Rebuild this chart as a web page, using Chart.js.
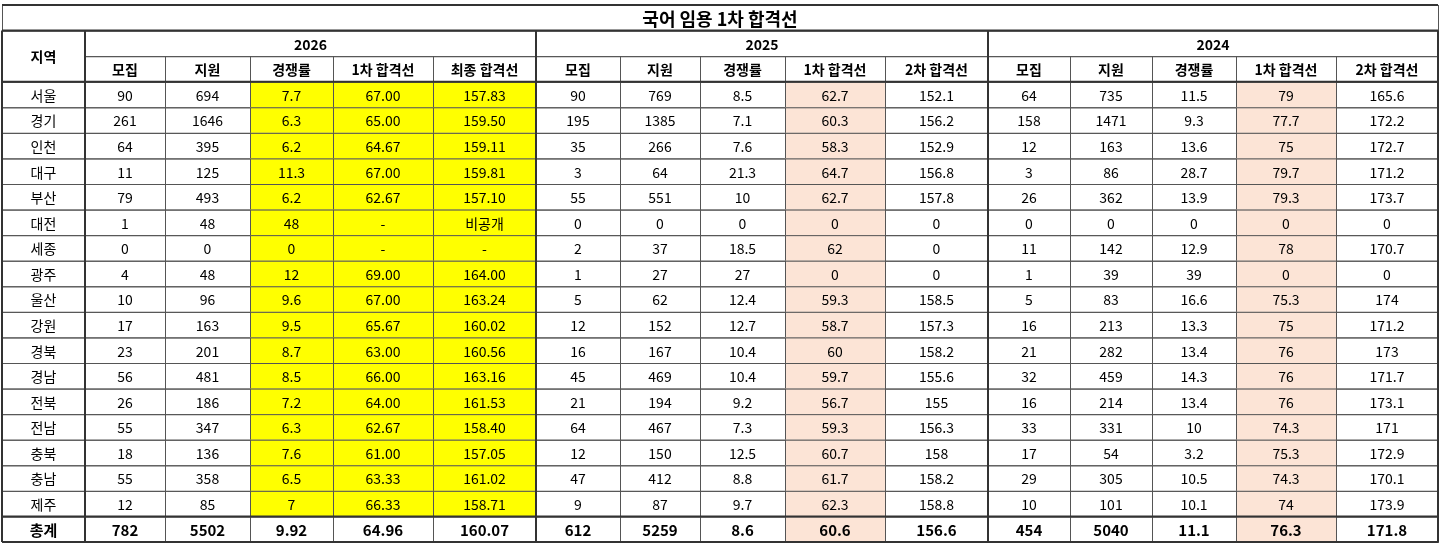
<!DOCTYPE html>
<html>
<head>
<meta charset="utf-8">
<script src="https://cdn.jsdelivr.net/npm/chart.js@4/dist/chart.umd.min.js"></script>
<style>
  html, body { margin: 0; padding: 0; background: #fff; }
  #wrap { width: 1443px; height: 546px; }
</style>
</head>
<body>
<div id="wrap"><canvas id="table"></canvas></div>
<script>
// 데이터
const title = '국어 임용 1차 합격선';
const years = ['2026', '2025', '2024'];
const subHeaders = [
  ['모집', '지원', '경쟁률', '1차 합격선', '최종 합격선'],
  ['모집', '지원', '경쟁률', '1차 합격선', '2차 합격선'],
  ['모집', '지원', '경쟁률', '1차 합격선', '2차 합격선']
];
const regions = ['서울', '경기', '인천', '대구', '부산', '대전', '세종', '광주', '울산', '강원',
  '경북', '경남', '전북', '전남', '충북', '충남', '제주'];
const total = '총계';

const data2026 = [
  ['90', '694', '7.7', '67.00', '157.83'],
  ['261', '1646', '6.3', '65.00', '159.50'],
  ['64', '395', '6.2', '64.67', '159.11'],
  ['11', '125', '11.3', '67.00', '159.81'],
  ['79', '493', '6.2', '62.67', '157.10'],
  ['1', '48', '48', '-', '비공개'],
  ['0', '0', '0', '-', '-'],
  ['4', '48', '12', '69.00', '164.00'],
  ['10', '96', '9.6', '67.00', '163.24'],
  ['17', '163', '9.5', '65.67', '160.02'],
  ['23', '201', '8.7', '63.00', '160.56'],
  ['56', '481', '8.5', '66.00', '163.16'],
  ['26', '186', '7.2', '64.00', '161.53'],
  ['55', '347', '6.3', '62.67', '158.40'],
  ['18', '136', '7.6', '61.00', '157.05'],
  ['55', '358', '6.5', '63.33', '161.02'],
  ['12', '85', '7', '66.33', '158.71']
];
const data2025 = [
  ['90', '769', '8.5', '62.7', '152.1'],
  ['195', '1385', '7.1', '60.3', '156.2'],
  ['35', '266', '7.6', '58.3', '152.9'],
  ['3', '64', '21.3', '64.7', '156.8'],
  ['55', '551', '10', '62.7', '157.8'],
  ['0', '0', '0', '0', '0'],
  ['2', '37', '18.5', '62', '0'],
  ['1', '27', '27', '0', '0'],
  ['5', '62', '12.4', '59.3', '158.5'],
  ['12', '152', '12.7', '58.7', '157.3'],
  ['16', '167', '10.4', '60', '158.2'],
  ['45', '469', '10.4', '59.7', '155.6'],
  ['21', '194', '9.2', '56.7', '155'],
  ['64', '467', '7.3', '59.3', '156.3'],
  ['12', '150', '12.5', '60.7', '158'],
  ['47', '412', '8.8', '61.7', '158.2'],
  ['9', '87', '9.7', '62.3', '158.8']
];
const data2024 = [
  ['64', '735', '11.5', '79', '165.6'],
  ['158', '1471', '9.3', '77.7', '172.2'],
  ['12', '163', '13.6', '75', '172.7'],
  ['3', '86', '28.7', '79.7', '171.2'],
  ['26', '362', '13.9', '79.3', '173.7'],
  ['0', '0', '0', '0', '0'],
  ['11', '142', '12.9', '78', '170.7'],
  ['1', '39', '39', '0', '0'],
  ['5', '83', '16.6', '75.3', '174'],
  ['16', '213', '13.3', '75', '171.2'],
  ['21', '282', '13.4', '76', '173'],
  ['32', '459', '14.3', '76', '171.7'],
  ['16', '214', '13.4', '76', '173.1'],
  ['33', '331', '10', '74.3', '171'],
  ['17', '54', '3.2', '75.3', '172.9'],
  ['29', '305', '10.5', '74.3', '170.1'],
  ['10', '101', '10.1', '74', '173.9']
];
const totals = [
  ['782', '5502', '9.92', '64.96', '160.07'],
  ['612', '5259', '8.6', '60.6', '156.6'],
  ['454', '5040', '11.1', '76.3', '171.8']
];

// 레이아웃 (열 경계, x축 값)
const colEdges = [0, 83, 163, 248, 331, 431, 534, 618, 698, 783, 883, 986, 1068, 1150, 1234, 1334, 1436];
const rowCount = 3 + regions.length + 1;
const yearData = [data2026, data2025, data2024];

const tablePlugin = {
  id: 'tableDraw',
  afterDraw(chart) {
    const c = chart.ctx, x = chart.scales.x, y = chart.scales.y;
    const X = v => x.getPixelForValue(v);
    const Y = v => y.getPixelForValue(v);
    const font = (w, s) => `${w} ${s}px "Noto Sans CJK KR", "Noto Sans", sans-serif`;
    c.save();
    c.textAlign = 'center';
    c.textBaseline = 'middle';

    const cell = (c0, c1, r0, r1, text, opt = {}) => {
      const x0 = X(colEdges[c0]), x1 = X(colEdges[c1]);
      const y0 = Y(r0), y1 = Y(r1);
      if (opt.fill) { c.fillStyle = opt.fill; c.fillRect(x0, y0, x1 - x0, y1 - y0); }
      c.strokeStyle = '#555';
      c.lineWidth = 1;
      c.strokeRect(x0 + 0.5, y0 + 0.5, x1 - x0, y1 - y0);
      c.fillStyle = '#000';
      c.font = font(opt.bold ? 'bold' : 'normal', opt.size || 14);
      c.fillText(text, (x0 + x1) / 2, (y0 + y1) / 2 + 1);
    };

    // 제목
    cell(0, 16, 0, 1, title, { bold: true, size: 18 });
    cell(0, 1, 1, 3, '지역', { bold: true });
    years.forEach((yr, g) => {
      cell(1 + g * 5, 6 + g * 5, 1, 2, yr, { bold: true });
      subHeaders[g].forEach((h, k) => cell(1 + g * 5 + k, 2 + g * 5 + k, 2, 3, h, { bold: true }));
    });
    regions.forEach((rg, i) => {
      const r = 3 + i;
      cell(0, 1, r, r + 1, rg);
      yearData.forEach((d, g) => {
        d[i].forEach((v, k) => {
          let fill = null;
          if (g === 0 && k >= 2) fill = '#ffff00';
          if (g > 0 && k === 3) fill = '#fce4d6';
          cell(1 + g * 5 + k, 2 + g * 5 + k, r, r + 1, v, { fill });
        });
      });
    });
    const rt = 3 + regions.length;
    cell(0, 1, rt, rt + 1, total, { bold: true, size: 15 });
    totals.forEach((t, g) => t.forEach((v, k) => {
      const fill = (g > 0 && k === 3) ? '#fce4d6' : null;
      cell(1 + g * 5 + k, 2 + g * 5 + k, rt, rt + 1, v, { bold: true, size: 15, fill });
    }));

    // 굵은 그룹 경계
    c.strokeStyle = '#333';
    c.lineWidth = 2;
    [0, 1, 6, 11, 16].forEach(e => {
      c.beginPath(); c.moveTo(X(colEdges[e]), Y(1)); c.lineTo(X(colEdges[e]), Y(rowCount)); c.stroke();
    });
    [0, 1, 3, rt, rowCount].forEach(r => {
      c.beginPath(); c.moveTo(X(0), Y(r)); c.lineTo(X(colEdges[16]), Y(r)); c.stroke();
    });
    c.restore();
  }
};

new Chart(document.getElementById('table'), {
  type: 'scatter',
  data: { datasets: [{ data: [] }] },
  options: {
    responsive: true,
    maintainAspectRatio: false,
    animation: false,
    layout: { padding: { left: 2, right: 5, top: 5, bottom: 4 } },
    plugins: { legend: { display: false }, tooltip: { enabled: false } },
    scales: {
      x: { type: 'linear', min: 0, max: colEdges[16], display: false },
      y: { type: 'linear', min: 0, max: rowCount, reverse: true, display: false }
    }
  },
  plugins: [tablePlugin]
});
</script>
</body>
</html>
